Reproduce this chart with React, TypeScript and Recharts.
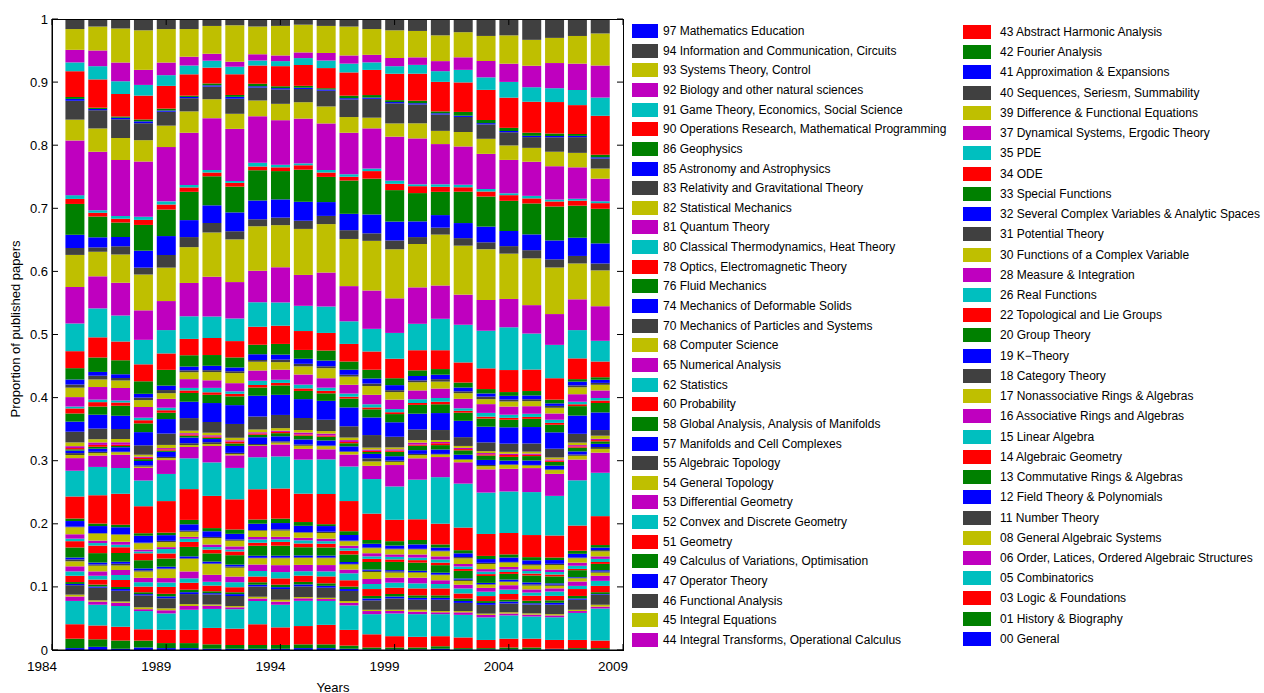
import React from 'react';
import { BarChart, Bar, XAxis, YAxis } from 'recharts';

// ---------- categories (stack order: bottom -> top) ----------
const CODES = ['00','01','03','05','06','08','11','12','13','14','15','16','17','18','19','20','22','26','28','30','31','32','33','34','35','37','39','40','41','42','43','44','45','46','47','49','51','52','53','54','55','57','58','60','62','65','68','70','74','76','78','80','81','82','83','85','86','90','91','92','93','94','97'];

const NAMES = ['General','History & Biography','Logic & Foundations','Combinatorics','Order, Latices, Ordered Algebraic Structures','General Algebraic Systems','Number Theory','Field Theory & Polynomials','Commutative Rings & Algebras','Algebraic Geometry','Linear Algebra','Associative Rings and Algebras','Nonassociative Rings & Algebras','Category Theory','K\u2212Theory','Group Theory','Topological and Lie Groups','Real Functions','Measure & Integration','Functions of a Complex Variable','Potential Theory','Several Complex Variables & Analytic Spaces','Special Functions','ODE','PDE','Dynamical Systems, Ergodic Theory','Difference & Functional Equations','Sequences, Seriesm, Summability','Approximation & Expansions','Fourier Analysis','Abstract Harmonic Analysis','Integral Transforms, Operational Calculus','Integral Equations','Functional Analysis','Operator Theory','Calculus of Variations, Optimisation','Geometry','Convex and Discrete Geometry','Differential Geometry','General Topology','Algebraic Topology','Manifolds and Cell Complexes','Global Analysis, Analysis of Manifolds','Probability','Statistics','Numerical Analysis','Computer Science','Mechanics of Particles and Systems','Mechanics of Deformable Solids','Fluid Mechanics','Optics, Electromagnetic Theory','Classical Thermodynamics, Heat Theory','Quantum Theory','Statistical Mechanics','Relativity and Gravitational Theory','Astronomy and Astrophysics','Geophysics','Operations Research, Mathematical Programming','Game Theory, Economics, Social Science','Biology and other natural sciences','Systems Theory, Control','Information and Communication, Circuits','Mathematics Education'];

const YEARS = [1985,1986,1987,1988,1989,1990,1991,1992,1993,1994,1995,1996,1997,1998,1999,2000,2001,2002,2003,2004,2005,2006,2007,2008];

// ---------- share of papers per year (per mille), in CODES order ----------
const S1985 = [3,15,23,37,7,3,15,2,3,10, 7,8,8,3,3,16,10,4,7,11, 1,9,4,35,41,20,5,3,4,2, 2,3,6,17,16,13,8,3,15,15, 5,8,18,27,44,58,51,11,21,49, 8,6,87,33,30,3,3,41,14,20, 33,15,1];
const S1986 = [5,12,22,33,5,2,20,2,3,8, 6,7,9,2,3,15,12,4,4,11, 1,11,4,45,45,18,4,2,5,3, 3,4,5,17,22,13,7,4,20,12, 6,6,23,32,46,51,39,7,16,33, 6,4,93,37,29,2,2,45,21,25, 38,11,1];
const S1987 = [2,13,22,33,5,2,17,3,3,11, 8,8,7,3,3,14,9,4,5,11, 1,11,4,49,41,21,4,1,7,2, 2,4,5,16,21,16,5,3,20,12, 4,6,22,30,41,52,45,13,15,23, 6,4,89,35,30,2,2,36,20,30, 54,14,1];
const S1988 = [4,11,18,29,3,3,19,2,3,9, 7,7,10,2,3,13,11,3,3,10, 1,11,4,43,41,20,2,2,7,3, 2,2,3,15,21,14,5,4,17,11, 4,6,20,27,39,47,57,11,27,41, 8,5,88,34,27,3,3,38,17,24, 63,17,1];
const S1989 = [3,8,21,26,5,3,16,3,4,11, 7,7,14,1,3,13,8,7,3,8, 2,9,4,50,43,22,3,2,8,2, 2,2,5,18,23,10,4,4,14,9, 5,7,25,26,37,46,53,20,30,42, 8,5,86,34,22,2,3,36,17,20, 53,15,1];
const S1990 = [3,8,21,32,6,3,16,3,4,11, 7,11,20,1,3,15,8,5,3,8, 2,10,7,49,49,18,3,3,9,3, 2,2,4,20,26,14,4,4,14,11, 3,6,18,26,36,53,57,16,27,45, 7,4,83,34,21,2,2,34,14,14, 44,15,1];
const S1991 = [2,7,26,30,5,2,16,2,3,9, 6,11,17,1,3,13,6,4,4,10, 2,9,5,51,53,26,3,3,5,2, 2,2,4,17,30,13,4,7,12,13, 3,7,17,27,34,63,70,15,28,46, 6,4,82,30,20,2,3,25,11,11, 44,10,1];
const S1992 = [2,6,26,31,3,2,16,3,3,8, 8,9,14,2,3,15,6,3,5,9, 2,9,7,48,50,20,2,2,11,4, 3,2,4,22,30,14,4,4,13,16, 3,6,16,26,36,58,68,13,30,41, 6,3,83,24,24,3,3,33,12,8, 58,9,1];
const S1993 = [2,6,33,37,4,3,16,3,4,9, 9,10,10,1,3,16,5,5,4,10, 1,10,7,48,51,18,1,2,11,4, 2,2,4,21,33,13,4,7,16,14, 3,9,15,29,39,50,71,11,30,48, 6,6,74,25,21,2,4,29,8,10, 44,11,1];
const S1994 = [2,6,28,36,5,3,17,3,4,10, 10,11,11,1,3,16,6,4,4,10, 2,10,7,48,51,19,3,2,8,5, 2,2,4,21,32,15,4,5,16,12, 4,8,17,29,37,56,67,12,29,45, 6,4,71,26,23,2,3,32,8,9, 47,10,1];
const S1995 = [3,6,29,40,4,2,17,3,4,10, 7,10,11,1,3,13,6,5,4,8, 1,10,6,45,54,17,5,2,8,6, 2,3,4,19,30,13,4,6,16,13, 4,8,14,30,40,49,73,13,30,51, 7,3,71,26,21,2,3,33,11,9, 44,8,1];
const S1996 = [3,6,31,38,3,2,16,3,4,11, 8,10,11,1,3,13,6,4,4,9, 2,9,3,48,55,16,5,1,8,6, 2,3,4,18,30,12,4,5,15,16, 3,9,16,28,42,54,77,13,22,40, 7,4,74,27,25,2,2,32,12,12, 43,10,1];
const S1997 = [2,5,25,39,4,3,16,3,4,10, 11,6,8,1,3,12,6,4,4,7, 1,9,6,48,55,19,4,1,8,5, 2,3,4,18,30,14,3,5,14,13, 3,8,13,28,36,56,75,14,26,53, 6,4,66,25,28,2,4,37,14,13, 46,11,1];
const S1998 = [1,3,21,32,5,2,15,3,4,11, 8,8,11,2,2,12,5,4,5,8, 1,6,6,42,55,21,7,5,7,3, 2,2,3,20,28,13,3,5,15,14, 4,8,14,29,36,61,79,12,30,57, 12,4,64,17,30,2,4,40,12,12, 41,15,1];
const S1999 = [1,3,18,36,4,2,18,3,4,10, 8,8,8,2,2,13,4,4,4,8, 1,5,7,34,53,34,5,2,7,7, 2,2,3,17,23,13,3,5,15,12, 3,8,11,31,41,55,78,14,30,50, 10,5,70,21,32,2,3,42,12,13, 44,17,1];
const S2000 = [1,3,17,36,4,3,16,3,4,11, 8,9,8,1,2,13,4,4,5,8, 1,7,7,33,63,34,5,2,6,7, 2,3,4,17,25,14,3,6,14,13, 3,7,9,32,42,58,69,11,25,45, 11,3,73,24,30,2,4,43,14,12, 42,18,1];
const S2001 = [2,4,16,35,3,2,18,3,4,11, 7,6,8,1,3,12,4,5,5,8, 1,5,5,33,74,32,4,1,7,7, 3,2,3,16,27,14,4,6,15,11, 4,7,9,30,50,53,81,11,20,37, 8,4,64,21,26,2,3,47,17,16, 41,25,1];
const S2002 = [1,2,17,36,4,2,13,3,4,8, 8,6,6,2,2,12,3,4,4,9, 2,6,5,36,70,34,4,1,7,7, 2,2,3,14,26,13,3,4,15,9, 3,6,8,32,60,48,78,12,24,50, 7,4,61,23,24,2,6,47,20,20, 40,20,1];
const S2003 = [1,2,13,36,4,2,14,3,3,8, 7,6,5,1,2,11,3,4,4,8, 2,6,5,35,66,37,5,2,8,7, 2,2,3,14,25,13,3,6,14,8, 4,5,7,33,60,49,81,11,25,48, 8,4,56,24,23,2,5,48,20,26, 40,26,1];
const S2004 = [1,3,14,37,3,2,14,3,3,9, 7,7,5,1,3,9,3,4,4,7, 1,7,5,34,66,36,6,1,6,6, 3,2,3,13,26,12,3,5,13,8, 3,6,6,35,68,45,72,12,24,48, 9,3,53,23,21,2,5,48,25,29, 45,25,1];
const S2005 = [1,3,14,35,3,2,14,2,4,8, 5,5,6,2,3,11,3,4,3,6, 2,6,5,35,68,38,4,1,7,7, 2,2,3,13,26,13,3,5,12,8, 3,6,7,34,57,45,74,13,25,49, 8,4,54,22,17,2,5,49,23,34, 41,32,1];
const S2006 = [1,1,14,36,3,2,15,3,4,7, 7,5,4,2,2,11,3,4,4,7, 2,6,4,35,63,35,6,1,6,6, 2,2,3,14,26,12,3,5,10,9, 3,4,6,34,53,49,74,13,30,54, 8,3,53,23,23,2,4,50,22,40, 40,29,1];
const S2007 = [1,2,13,43,3,2,16,2,4,11, 5,7,5,1,1,11,2,5,5,7, 1,6,5,40,72,33,6,2,5,6, 2,2,4,14,29,15,3,4,12,11, 3,6,4,33,45,49,57,12,29,51, 8,3,50,23,25,2,3,46,24,42, 44,26,1];
const S2008 = [1,2,12,51,3,3,16,1,3,10, 8,8,5,2,2,10,3,5,4,8, 2,4,4,46,69,32,6,3,5,4, 2,2,5,9,28,15,4,4,12,9, 3,5,4,25,33,55,57,11,32,55, 9,3,36,16,16,2,4,62,29,51, 51,22,1];

const SHARES_BY_YEAR = [S1985,S1986,S1987,S1988,S1989,S1990,S1991,S1992,S1993,S1994,S1995,S1996,S1997,S1998,S1999,S2000,S2001,S2002,S2003,S2004,S2005,S2006,S2007,S2008];

const X_TICKS = [1984, 1989, 1994, 1999, 2004, 2009];
const Y_TICKS = [0, 0.1, 0.2, 0.3, 0.4, 0.5, 0.6, 0.7, 0.8, 0.9, 1];

// ---------- styles ----------
const BLUE = '#0000FF', GREEN = '#008000', RED = '#FF0000', CYAN = '#00BFBF', MAGENTA = '#BF00BF', OLIVE = '#BFBF00', GRAY = '#404040';
const SERIES_COLORS = [
  BLUE, GREEN, RED, CYAN, MAGENTA, OLIVE, GRAY, BLUE, GREEN, RED,
  CYAN, MAGENTA, OLIVE, GRAY, BLUE, GREEN, RED, CYAN, MAGENTA, OLIVE,
  GRAY, BLUE, GREEN, RED, CYAN, MAGENTA, OLIVE, GRAY, BLUE, GREEN,
  RED, MAGENTA, OLIVE, GRAY, BLUE, GREEN, RED, CYAN, MAGENTA, OLIVE,
  GRAY, BLUE, GREEN, RED, CYAN, MAGENTA, OLIVE, GRAY, BLUE, GREEN,
  RED, CYAN, MAGENTA, OLIVE, GRAY, BLUE, GREEN, RED, CYAN, MAGENTA,
  OLIVE, GRAY, BLUE,
];

const FONT = '"Liberation Sans", Arial, Helvetica, sans-serif';
const CHART_W = 640;
const CHART_H = 693;
const PLOT_LEFT = 52;
const PLOT_TOP = 19;
const PLOT_W = 571;
const PLOT_H = 631;
const TICK_LEN = 6;
const LEGEND_FONT = 12;

const data = YEARS.map((year, i) => {
  const row: Record<string, number> = { year };
  CODES.forEach((c, j) => {
    row['c' + c] = SHARES_BY_YEAR[i][j];
  });
  return row;
});

function YTick(props: any) {
  const { x, y, payload } = props;
  return (
    <g>
      <line x1={x} y1={y} x2={x + TICK_LEN} y2={y} stroke="#000" strokeWidth={1} />
      <line x1={x + PLOT_W} y1={y} x2={x + PLOT_W - TICK_LEN} y2={y} stroke="#000" strokeWidth={1} />
      <text x={x - 4} y={y} dy={4.5} textAnchor="end" fontSize={13} fontFamily={FONT} fill="#000">
        {String(payload.value)}
      </text>
    </g>
  );
}

function XTick(props: any) {
  const { x, y, payload } = props;
  return (
    <g>
      <line x1={x} y1={y} x2={x} y2={y - TICK_LEN} stroke="#000" strokeWidth={1} />
      <line x1={x} y1={y - PLOT_H} x2={x} y2={y - PLOT_H + TICK_LEN} stroke="#000" strokeWidth={1} />
      <text x={x - 10} y={y} dy={21} textAnchor="middle" fontSize={13.5} fontFamily={FONT} fill="#000">
        {String(payload.value)}
      </text>
    </g>
  );
}

const LEFT_COUNT = 32;

export default function App() {
  const leftItems = [];
  for (let k = 0; k < LEFT_COUNT; k++) leftItems.push(CODES.length - 1 - k);
  const rightItems = [];
  for (let k = CODES.length - 1 - LEFT_COUNT; k >= 0; k--) rightItems.push(k);

  return (
    <div style={{ position: 'absolute', left: 0, top: 0, width: 1264, height: 693, overflow: 'hidden', background: '#fff', fontFamily: FONT }}>
      <div style={{ position: 'absolute', left: 0, top: 0 }}>
        <BarChart
          width={CHART_W}
          height={CHART_H}
          data={data}
          stackOffset="expand"
          margin={{ top: PLOT_TOP, right: CHART_W - PLOT_LEFT - PLOT_W, bottom: 13, left: 0 }}
        >
          <XAxis
            dataKey="year"
            type="number"
            domain={[1984, 2009]}
            ticks={X_TICKS}
            interval={0}
            height={30}
            tickSize={0}
            tickMargin={0}
            tick={<XTick />}
            axisLine={{ stroke: '#000' }}
          />
          <YAxis
            type="number"
            domain={[0, 1]}
            ticks={Y_TICKS}
            interval={0}
            width={PLOT_LEFT}
            tickSize={0}
            tickMargin={0}
            tick={<YTick />}
            axisLine={{ stroke: '#000' }}
          />
          {CODES.map((c, j) => (
            <Bar
              key={c}
              dataKey={'c' + c}
              name={c + ' ' + NAMES[j]}
              stackId="all"
              fill={SERIES_COLORS[j]}
              barSize={19}
              isAnimationActive={false}
            />
          ))}
        </BarChart>
      </div>
      {/* plot frame */}
      <div style={{ position: 'absolute', left: PLOT_LEFT, top: PLOT_TOP, width: PLOT_W + 1, height: PLOT_H + 1, border: '1px solid #000', boxSizing: 'border-box', pointerEvents: 'none' }} />
      {/* axis labels */}
      <div style={{ position: 'absolute', left: 15, top: 329, transform: 'translate(-50%, -50%) rotate(-90deg)', fontSize: 13, whiteSpace: 'nowrap', color: '#000' }}>
        Proportion of published papers
      </div>
      <div style={{ position: 'absolute', left: 333, top: 687, transform: 'translate(-50%, -50%)', fontSize: 13, whiteSpace: 'nowrap', color: '#000' }}>
        Years
      </div>
      {/* legend, left column */}
      {leftItems.map((idx, k) => {
        const cy = 31 + k * 19.645;
        return (
          <React.Fragment key={'l' + idx}>
            <div style={{ position: 'absolute', left: 632, top: cy - 7, width: 26, height: 14, background: SERIES_COLORS[idx] }} />
            <div style={{ position: 'absolute', left: 663, top: cy, transform: 'translateY(-50%)', fontSize: LEGEND_FONT, whiteSpace: 'nowrap', color: '#000' }}>
              {CODES[idx] + ' ' + NAMES[idx]}
            </div>
          </React.Fragment>
        );
      })}
      {/* legend, right column */}
      {rightItems.map((idx, k) => {
        const cy = 32 + k * 20.23;
        return (
          <React.Fragment key={'r' + idx}>
            <div style={{ position: 'absolute', left: 963, top: cy - 7, width: 28, height: 14, background: SERIES_COLORS[idx] }} />
            <div style={{ position: 'absolute', left: 1000, top: cy, transform: 'translateY(-50%)', fontSize: LEGEND_FONT, whiteSpace: 'nowrap', color: '#000' }}>
              {CODES[idx] + ' ' + NAMES[idx]}
            </div>
          </React.Fragment>
        );
      })}
    </div>
  );
}
